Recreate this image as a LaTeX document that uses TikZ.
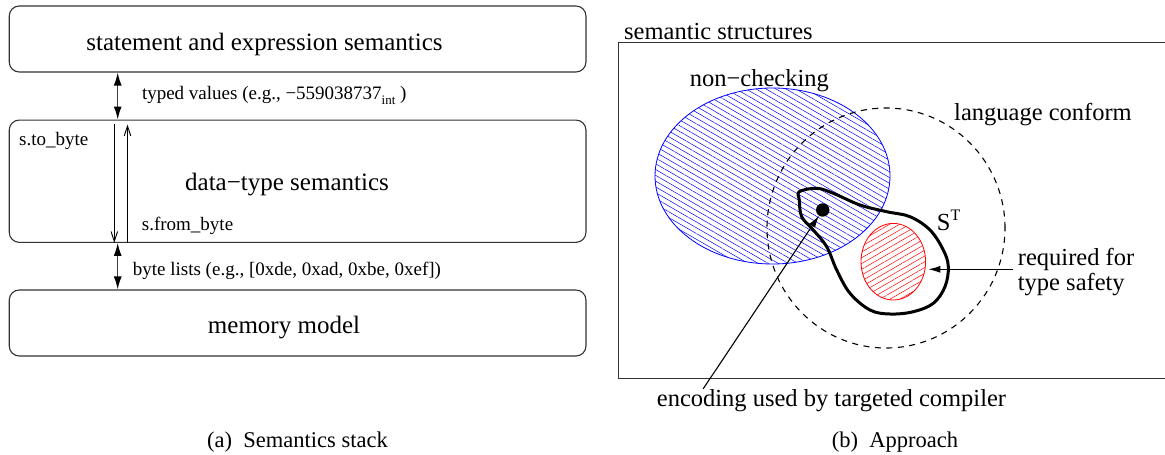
\documentclass[tikz,border=0pt]{standalone}
\usepackage{fontspec}
\setmainfont{Liberation Serif}
\usetikzlibrary{arrows.meta,shapes.geometric,patterns.meta}
\begin{document}
\begin{tikzpicture}[x=1pt,y=-1pt,
  box/.style={draw=black!80,line width=1.1pt,rounded corners=10pt,minimum width=576.7pt,inner sep=0pt},
  big/.style={font=\fontsize{25}{30}\selectfont,inner sep=0pt},
  lbl/.style={font=\fontsize{19}{22}\selectfont,inner sep=0pt},
  captxt/.style={font=\fontsize{22.5}{27}\selectfont,inner sep=0pt},
  rbig/.style={font=\fontsize{24.5}{29}\selectfont,inner sep=0pt},
  fat/.style={line width=1.3pt,draw=black!75,{Latex[length=13pt,width=8pt,color=black]}-{Latex[length=13pt,width=8pt,color=black]}},
  thinarr/.style={line width=0.9pt,-{Straight Barb[length=10pt,width=6.5pt]}},
  ptr/.style={line width=1.1pt,-{Latex[length=12pt,width=7pt]}},
  region/.style={ellipse,inner sep=0pt,line width=0.8pt},
]
\useasboundingbox (0,0) rectangle (1165,455);

% ---------- (a) semantics stack ----------
\node[box,minimum height=66pt] (b1) at (297.6,39) {};
\node[box,minimum height=122.3pt] (b2) at (297.6,181.2) {};
\node[box,minimum height=66pt] (b3) at (297.6,323) {};

\node[big,anchor=base] (t1) at (264.5,50) {statement and expression semantics};
\node[big,anchor=base] (t2) at (287,190) {data−type semantics};
\node[big,anchor=base] (t3) at (284,333) {memory model};

\node[lbl,anchor=base west] (lv) at (141.8,99.5) {typed values (e.g., −559038737\raisebox{-5pt}{\fontsize{13}{13}\selectfont int}\ )};
\node[lbl,anchor=base west] (lb) at (132.7,275) {byte lists (e.g., [0xde, 0xad, 0xbe, 0xef])};
\node[lbl,anchor=base west] (lt) at (19,145) {s.to\_byte};
\node[lbl,anchor=base west] (lf) at (141.7,230) {s.from\_byte};

\coordinate (ax) at (117.7,0);
\draw[fat] (b1.south -| ax) -- (b2.north -| ax);
\draw[fat] (b2.south -| ax) -- (b3.north -| ax);
\coordinate (dn) at (114.3,124);
\draw[thinarr] (dn) -- (b2.south -| dn);
\coordinate (up) at (127.5,124.5);
\draw[thinarr] (b2.south -| up) -- (up);

\node[captxt,anchor=base] (ca) at (297.5,447) {(a)\hspace{0.5em}Semantics stack};

% ---------- (b) approach ----------
\node[rbig,anchor=base west] (ss) at (624,39.5) {semantic structures};
\draw[line width=1.2pt,draw=black!80] (1170,42.7) -| (618.7,378.3) -- (1170,378.3);

\node[region,draw=blue,minimum width=235pt,minimum height=176pt,
      pattern={Lines[angle=-30,distance=5pt,line width=0.5pt]},pattern color=blue] (nc) at (772.5,176) {};
\node[region,draw=red,minimum width=64.6pt,minimum height=76.6pt,
      pattern={Lines[angle=30,distance=5pt,line width=0.5pt]},pattern color=red] (ts) at (893.3,261.7) {};
\node[region,draw=black,dash pattern=on 6pt off 5.5pt,line width=1.1pt,
      minimum width=238pt,minimum height=240pt] (lc) at (886,228) {};

\node[rbig,anchor=base] (ncl) at (759.3,86) {non−checking};
\node[rbig,anchor=base west] (lcl) at (954,120) {language conform};

\draw[line width=3pt,line join=round] plot[smooth cycle,tension=0.6] coordinates {
 (799.3,191.7) (816.7,188.3) (833.3,193.3) (860,205) (886.7,211.7) (910,216.7)
 (930,230) (943.3,250) (948.3,266.7) (945,286.7) (933.3,303.3) (913.3,311.7)
 (890,314) (870,310) (850,293.3) (836.7,270) (826.7,246.7) (813.3,230)
 (801.7,216.7) (799.3,200)};
\node[circle,fill=black,inner sep=0pt,minimum size=13.4pt] (dt) at (822.7,210) {};

\node[rbig,anchor=base west] (st) at (936.7,230) {S\raisebox{10pt}{\fontsize{16}{16}\selectfont T}};

\node[rbig,anchor=base west] (rf1) at (1017.7,265) {required for};
\node[rbig,anchor=base west] (rf2) at (1017.7,290) {type safety};
\coordinate (rtip) at (928.3,269.3);
\draw[ptr] (rf1.south west |- rtip) ++(-4.4,0) -- (rtip);

\node[rbig,anchor=base] (enc) at (831.5,406) {encoding used by targeted compiler};
\draw[ptr] ([xshift=46.5pt]enc.north west) -- (dt);

\node[captxt,anchor=base] (cb) at (895,447) {(b)\hspace{0.5em}Approach};
\end{tikzpicture}
\end{document}
